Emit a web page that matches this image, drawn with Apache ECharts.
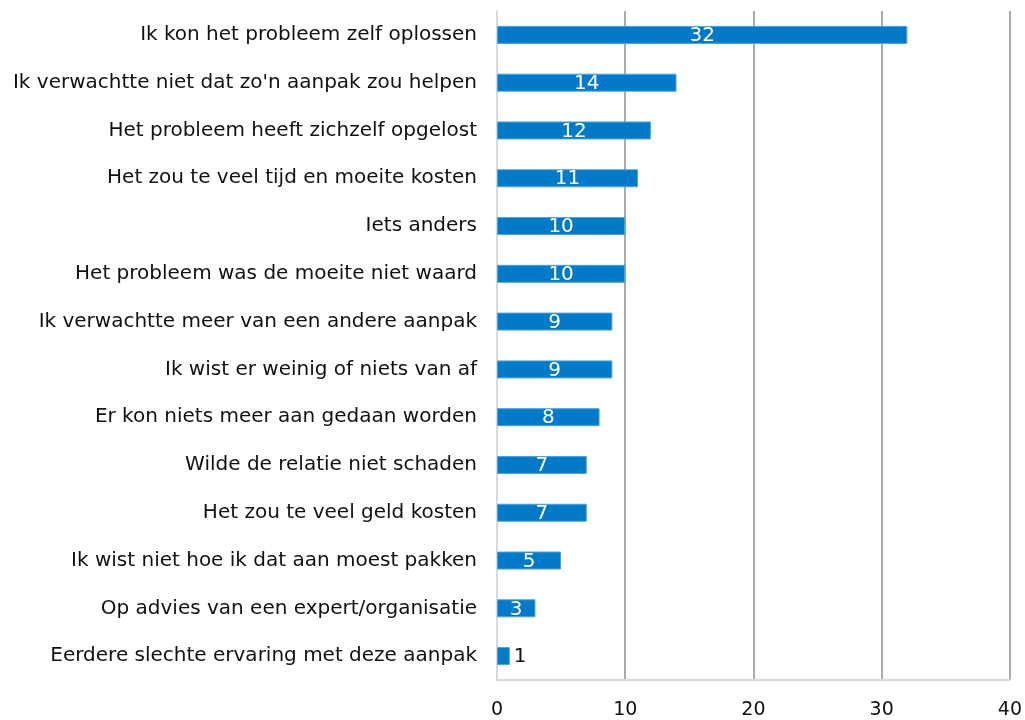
<!DOCTYPE html>
<html>
<head>
<meta charset="utf-8">
<script src="https://cdn.jsdelivr.net/npm/echarts@6/dist/echarts.min.js"></script>
<style>
  html, body { margin: 0; padding: 0; background: #fff; }
  #chart { width: 1025px; height: 720px; }
</style>
</head>
<body>
<div id="chart"></div>
<script>
// redenen, van boven naar beneden
var categories = [
  'Ik kon het probleem zelf oplossen',
  "Ik verwachtte niet dat zo'n aanpak zou helpen",
  'Het probleem heeft zichzelf opgelost',
  'Het zou te veel tijd en moeite kosten',
  'Iets anders',
  'Het probleem was de moeite niet waard',
  'Ik verwachtte meer van een andere aanpak',
  'Ik wist er weinig of niets van af',
  'Er kon niets meer aan gedaan worden',
  'Wilde de relatie niet schaden',
  'Het zou te veel geld kosten',
  'Ik wist niet hoe ik dat aan moest pakken',
  'Op advies van een expert/organisatie',
  'Eerdere slechte ervaring met deze aanpak'
];
var values = [32, 14, 12, 11, 10, 10, 9, 9, 8, 7, 7, 5, 3, 1];
var xTicks = [0, 10, 20, 30, 40];

var font = 'DejaVu Sans, Verdana, sans-serif';

var chart = echarts.init(document.getElementById('chart'));

// korte balken krijgen het label rechts ernaast
var barData = values.map(function (v) {
  if (v < 2) {
    return { value: v, label: { position: 'right', color: '#111111', distance: 4 } };
  }
  return v;
});

chart.setOption({
  animation: false,
  grid: { left: 497, right: 15, top: 11, bottom: 38, containLabel: false },
  xAxis: {
    type: 'value',
    min: 0,
    max: 40,
    interval: 10,
    axisLine: { show: true, lineStyle: { color: '#d9d9d9', width: 2 } },
    axisTick: { show: false },
    axisLabel: {
      color: '#111111', fontFamily: font, fontSize: 19, margin: 21,
      formatter: function (v) { return xTicks.indexOf(v) >= 0 ? String(v) : ''; }
    },
    splitLine: { show: true, lineStyle: { color: '#ababab', width: 2 } }
  },
  yAxis: {
    type: 'category',
    data: categories,
    inverse: true,
    axisLine: { show: true, lineStyle: { color: '#d9d9d9', width: 2 } },
    axisTick: { show: false },
    axisLabel: { color: '#111111', fontFamily: font, fontSize: 20, margin: 20 }
  },
  series: [{
    type: 'bar',
    data: barData,
    barWidth: 18,
    itemStyle: { color: '#007ac9', borderColor: '#4fa3dc', borderWidth: 1 },
    label: {
      show: true,
      position: 'inside',
      color: '#ffffff',
      fontFamily: font,
      fontSize: 20,
      offset: [0, 1]
    }
  }]
});
</script>
</body>
</html>
